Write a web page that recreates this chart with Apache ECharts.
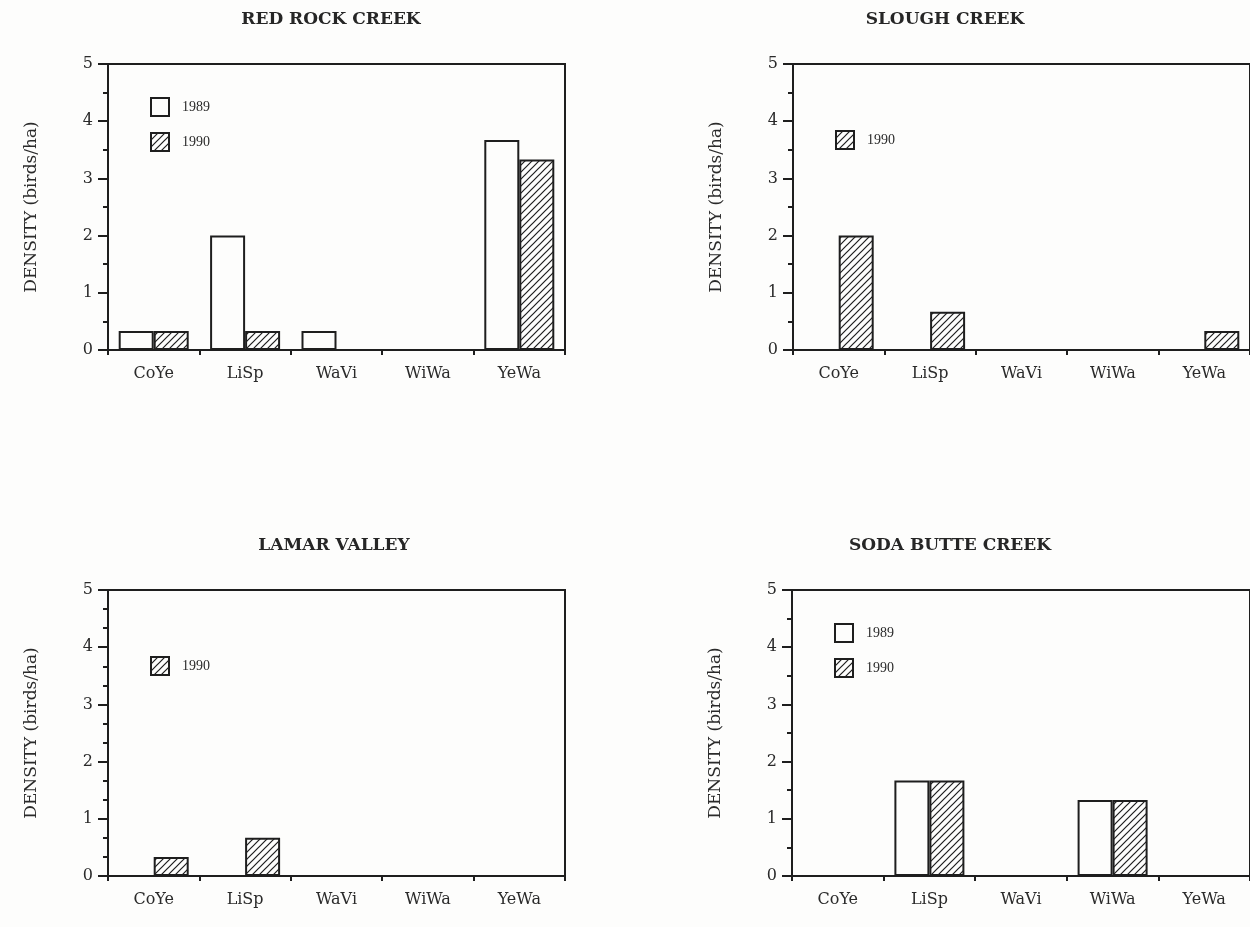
<!DOCTYPE html>
<html>
<head>
<meta charset="utf-8">
<title>Warbler and sparrow densities</title>
<script src="https://cdn.jsdelivr.net/npm/echarts@6/dist/echarts.min.js"></script>
<style>
  html, body { margin: 0; padding: 0; background: #fdfdfc; }
  #chart { width: 1250px; height: 927px; }
</style>
</head>
<body>
<div id="chart"></div>
<script>
// Species codes along every x axis
const species = ['CoYe', 'LiSp', 'WaVi', 'WiWa', 'YeWa'];
const yTicks = [0, 1, 2, 3, 4, 5];

// Densities (birds/ha) by site and year
const redRock1989 = [0.33, 2.0, 0.33, 0, 3.67];
const redRock1990 = [0.33, 0.33, 0, 0, 3.33];
const slough1989 = [null, null, null, null, null];
const slough1990 = [2.0, 0.67, 0, 0, 0.33];
const lamar1989 = [null, null, null, null, null];
const lamar1990 = [0.33, 0.67, 0, 0, 0];
const sodaButte1989 = [0, 1.67, 0, 1.33, 0];
const sodaButte1990 = [0, 1.67, 0, 1.33, 0];

const siteNames = ['RED ROCK CREEK', 'SLOUGH CREEK', 'LAMAR VALLEY', 'SODA BUTTE CREEK'];
const years = ['1989', '1990'];

const INK = '#1e1e1e';
const SERIF = '"DejaVu Serif", "Liberation Serif", serif';

// Diagonal hatch fill for the 1990 bars
function hatchPattern() {
  const c = document.createElement('canvas');
  c.width = 7; c.height = 7;
  const g = c.getContext('2d');
  g.fillStyle = '#fdfdfc';
  g.fillRect(0, 0, 7, 7);
  g.strokeStyle = INK;
  g.lineWidth = 1.2;
  g.beginPath();
  g.moveTo(-1, 8); g.lineTo(8, -1);
  g.moveTo(-4, 4); g.lineTo(4, -4);
  g.moveTo(3, 11); g.lineTo(11, 3);
  g.stroke();
  return { image: c, repeat: 'repeat' };
}
const hatch = hatchPattern();

// Panel layout: [left, top, width, height]
const panels = [
  { box: [108, 64, 457, 286], minorSplit: 2, legend: ['1989', '1990'], data: [redRock1989, redRock1990], titleX: 331 },
  { box: [793, 64, 459, 286], minorSplit: 2, legend: ['1990'], data: [slough1989, slough1990], titleX: 945 },
  { box: [108, 590, 457, 286], minorSplit: 3, legend: ['1990'], data: [lamar1989, lamar1990], titleX: 334 },
  { box: [792, 590, 459, 286], minorSplit: 2, legend: ['1989', '1990'], data: [sodaButte1989, sodaButte1990], titleX: 950 }
];

const grid = [], xAxis = [], yAxis = [], series = [], legend = [], graphic = [];

panels.forEach((p, i) => {
  const [l, t, w, h] = p.box;
  grid.push({
    left: l, top: t, width: w, height: h,
    show: true, borderColor: INK, borderWidth: 2, backgroundColor: 'transparent'
  });
  xAxis.push({
    type: 'category', gridIndex: i, data: species,
    axisLine: { lineStyle: { color: INK, width: 2 } },
    axisTick: { show: true, inside: false, length: 5, interval: 0, alignWithLabel: false, lineStyle: { color: INK, width: 2 } },
    axisLabel: { color: '#2a2a2a', fontFamily: SERIF, fontSize: 16, margin: 16, interval: 0 },
    splitLine: { show: false }
  });
  yAxis.push({
    type: 'value', gridIndex: i, min: yTicks[0], max: yTicks[yTicks.length - 1], interval: 1,
    name: 'DENSITY (birds/ha)', nameLocation: 'middle', nameGap: 68,
    nameTextStyle: { color: '#2a2a2a', fontFamily: SERIF, fontSize: 17 },
    axisLine: { show: true, lineStyle: { color: INK, width: 2 } },
    axisTick: { show: true, inside: false, length: 10, lineStyle: { color: INK, width: 2 } },
    minorTick: { show: true, splitNumber: p.minorSplit, length: 5, lineStyle: { color: INK, width: 2 } },
    axisLabel: { color: '#2a2a2a', fontFamily: SERIF, fontSize: 16, margin: 15 },
    splitLine: { show: false }
  });
  years.forEach((yr, k) => {
    series.push({
      name: yr, type: 'bar', xAxisIndex: i, yAxisIndex: i,
      data: p.data[k], barWidth: 35, barGap: '0%',
      itemStyle: {
        color: k === 0 ? '#fdfdfc' : hatch,
        borderColor: INK, borderWidth: 2
      },
      emphasis: { disabled: true },
      animation: false
    });
  });
  const legendTop = p.legend.length === 2 ? t + 33 : t + 66;
  legend.push({
    data: p.legend, orient: 'vertical', left: l + 42, top: legendTop,
    padding: 0, itemWidth: 18, itemHeight: 18, itemGap: 15, icon: 'rect',
    selectedMode: false,
    itemStyle: { borderColor: INK, borderWidth: 2 },
    textStyle: { color: '#2a2a2a', fontFamily: '"Liberation Serif", serif', fontSize: 14, padding: [0, 0, 0, 8] }
  });
  graphic.push({
    type: 'text', x: p.titleX, y: t - 44,
    style: {
      text: siteNames[i], fill: '#262626', font: 'bold 17px ' + SERIF,
      textAlign: 'center', textVerticalAlign: 'middle'
    }
  });
});

const chart = echarts.init(document.getElementById('chart'), null, { renderer: 'canvas' });
chart.setOption({
  backgroundColor: '#fdfdfc',
  animation: false,
  grid, xAxis, yAxis, series, legend, graphic,
  tooltip: { show: false }
});
</script>
</body>
</html>
